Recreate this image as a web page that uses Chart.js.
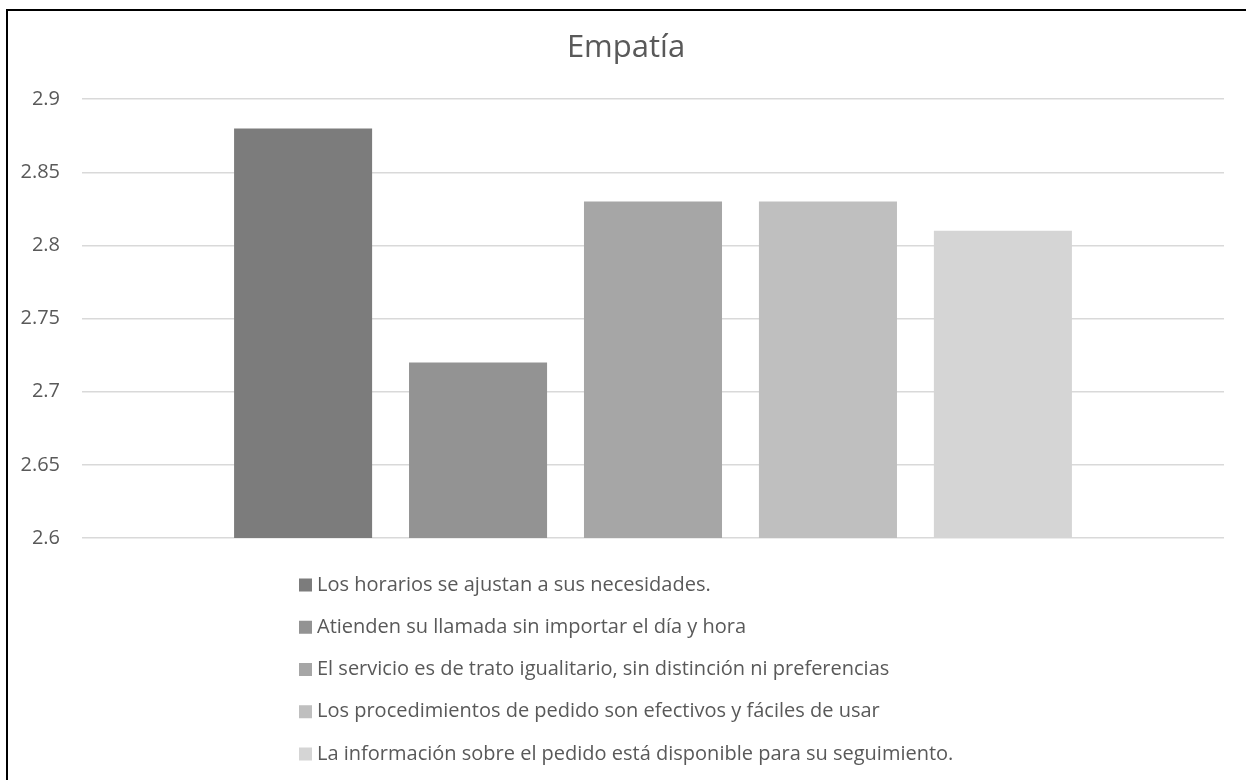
<!DOCTYPE html>
<html>
<head>
<meta charset="utf-8">
<title>Empatía</title>
<script src="https://cdn.jsdelivr.net/npm/chart.js@4.4.1/dist/chart.umd.min.js"></script>
<style>
    html, body { margin: 0; padding: 0; background: #fff; }
    #wrap { position: relative; width: 1246px; height: 780px; overflow: hidden; }
    #frame { position: absolute; left: 6px; top: 9px; width: 1400px; height: 900px;
             border-left: 2px solid #000; border-top: 2px solid #000; }
    #empatiaChart { position: absolute; left: 0; top: 0; }
</style>
</head>
<body>
<div id="wrap">
    <div id="frame"></div>
    <canvas id="empatiaChart" width="1246" height="780"></canvas>
</div>
<script>
const chartTitle = 'Empatía';

const seriesNames = [
    'Los horarios se ajustan a sus necesidades.',
    'Atienden su llamada sin importar el día y hora',
    'El servicio es de trato igualitario, sin distinción ni preferencias',
    'Los procedimientos de pedido son efectivos y fáciles de usar',
    'La información sobre el pedido está disponible para su seguimiento.'
];
const seriesValues = [2.88, 2.72, 2.83, 2.83, 2.81];
const seriesColors = ['#7c7c7c', '#939393', '#a6a6a6', '#bfbfbf', '#d5d5d5'];

const yTicks = [2.6, 2.65, 2.7, 2.75, 2.8, 2.85, 2.9];
const yTickLabels = ['2.6', '2.65', '2.7', '2.75', '2.8', '2.85', '2.9'];

// legend drawn as a vertical list under the plot, like the Excel one
const legendList = {
    id: 'legendList',
    afterDraw(chart, args, opts) {
        const ctx = chart.ctx;
        ctx.save();
        ctx.font = opts.font;
        ctx.textBaseline = 'middle';
        ctx.textAlign = 'left';
        chart.data.datasets.forEach((ds, i) => {
            const y = opts.top + i * opts.rowHeight;
            ctx.fillStyle = ds.backgroundColor;
            ctx.fillRect(opts.left, y - opts.box / 2, opts.box, opts.box);
            ctx.fillStyle = opts.color;
            ctx.fillText(ds.label, opts.left + opts.box + 5, y);
        });
        ctx.restore();
    }
};

Chart.defaults.font.family = '"Open Sans", sans-serif';
Chart.defaults.color = '#595959';

const ctx = document.getElementById('empatiaChart').getContext('2d');
new Chart(ctx, {
    type: 'bar',
    data: {
        labels: [''],
        datasets: seriesNames.map((name, i) => ({
            label: name,
            data: [seriesValues[i]],
            backgroundColor: seriesColors[i],
            borderWidth: 0,
            categoryPercentage: 0.766,
            barPercentage: 0.789
        }))
    },
    options: {
        responsive: false,
        animation: false,
        layout: {
            padding: { top: 0, right: 0, bottom: 242, left: 6 }
        },
        plugins: {
            legend: { display: false },
            tooltip: { enabled: false },
            title: {
                display: true,
                text: chartTitle,
                color: '#595959',
                font: { size: 31, weight: 'normal' },
                padding: { top: 30, bottom: 32 }
            },
            legendList: {
                left: 299,
                top: 585,
                rowHeight: 42.25,
                box: 13,
                font: '20px "Open Sans"',
                color: '#595959'
            }
        },
        scales: {
            x: {
                display: false
            },
            y: {
                min: yTicks[0],
                max: yTicks[yTicks.length - 1],
                afterBuildTicks: scale => {
                    scale.ticks = yTicks.map(v => ({ value: v }));
                },
                afterFit: scale => {
                    scale.width = 76;
                },
                ticks: {
                    padding: 22,
                    color: '#595959',
                    font: { size: 20 },
                    callback: v => yTickLabels[yTicks.indexOf(v)]
                },
                grid: {
                    color: '#d9d9d9',
                    lineWidth: 1.5,
                    drawTicks: false
                },
                border: { display: false }
            },
            // empty right margin so the title centres on the whole frame
            yRight: {
                position: 'right',
                ticks: { display: false },
                grid: { display: false },
                border: { display: false },
                afterFit: scale => {
                    scale.width = 22;
                }
            }
        }
    },
    plugins: [legendList]
});
</script>
</body>
</html>
